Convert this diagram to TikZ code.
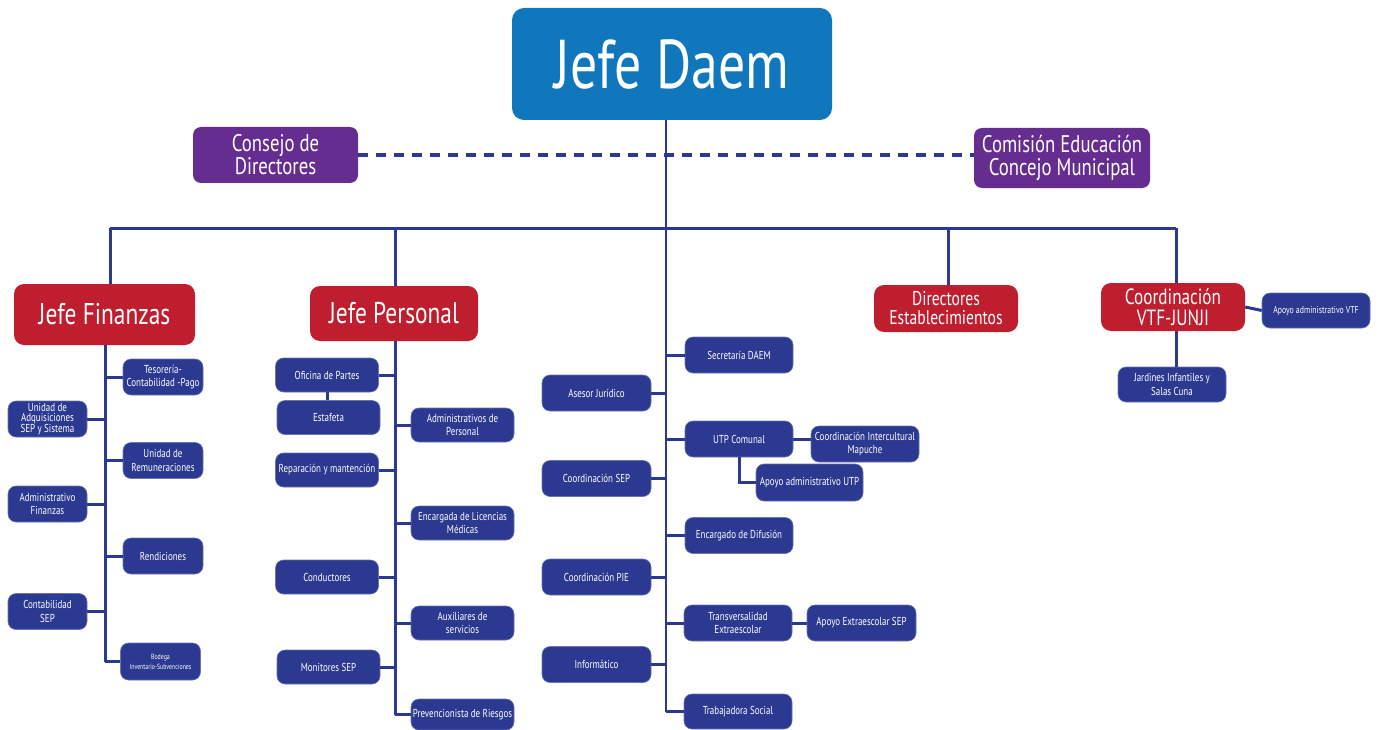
\documentclass[tikz,border=0pt]{standalone}
\usepackage{fontspec}
\setmainfont{PT Sans}[FakeStretch=0.78]
\definecolor{cblue}{HTML}{1177BC}
\definecolor{cpurple}{HTML}{662D91}
\definecolor{cred}{HTML}{BE1E2D}
\definecolor{cnavy}{HTML}{2B3990}
\tikzset{
  basebox/.style={rectangle, rounded corners=8pt, text=white, align=center, inner sep=0pt, font=\fontsize{11.5}{13.5}\selectfont},
  topbox/.style={basebox, fill=cblue, rounded corners=12pt, font=\fontsize{69}{69}\selectfont},
  purplebox/.style={basebox, fill=cpurple, font=\fontsize{24}{23}\selectfont},
  redbox/.style={basebox, fill=cred, rounded corners=10pt},
  sbox/.style={basebox, fill=cnavy, draw=cnavy!70!white, line width=0.6pt},
  link/.style={draw=cnavy, line width=3pt},
  dlink/.style={draw=cnavy, line width=4pt, dash pattern=on 10pt off 8pt}
}
\begin{document}
\begin{tikzpicture}[x=1pt,y=-1pt]
\useasboundingbox (0,0) rectangle (1380,730);
% top
\node[topbox, minimum width=320, minimum height=112] (JD) at (672,64) {Jefe Daem};
\node[purplebox, minimum width=165, minimum height=56] (CD) at (275.5,155) {Consejo de\\Directores};
\node[purplebox, minimum width=176, minimum height=60] (CE) at (1062,158) {Comisión Educación\\Concejo Municipal};
% red level
\node[redbox, font=\fontsize{30}{30}\selectfont, minimum width=181, minimum height=61] (JF) at (104.5,314.5) {Jefe Finanzas};
\node[redbox, font=\fontsize{30}{30}\selectfont, minimum width=168, minimum height=55] (JP) at (394,313.5) {Jefe Personal};
\node[redbox, font=\fontsize{20}{19}\selectfont, minimum width=144, minimum height=47] (DE) at (946,308.5) {Directores\\Establecimientos};
\node[redbox, font=\fontsize{22}{21}\selectfont, minimum width=144, minimum height=48] (CV) at (1173,307) {Coordinación\\VTF-JUNJI};
\node[sbox, font=\fontsize{10}{12}\selectfont, minimum width=108, minimum height=35] (AV) at (1316,310.5) {Apoyo administrativo VTF};
\node[sbox, minimum width=108, minimum height=35] (JI) at (1172,384.5) {Jardines Infantiles y\\Salas Cuna};
% finanzas
\node[sbox, minimum width=80, minimum height=36] (TES) at (163,377) {Tesorería-\\Contabilidad -Pago};
\node[sbox, minimum width=80, minimum height=36] (REM) at (163,460.5) {Unidad de\\Remuneraciones};
\node[sbox, minimum width=80, minimum height=36] (REN) at (163,556) {Rendiciones};
\node[sbox, font=\fontsize{7.5}{10}\selectfont, minimum width=80, minimum height=37] (BOD) at (160.5,661.5) {Bodega\\Inventario-Subvenciones};
\node[sbox, font=\fontsize{11.5}{10}\selectfont, minimum width=79, minimum height=36] (ADQ) at (47.5,419) {Unidad de\\Adquisiciones\\SEP y Sistema};
\node[sbox, minimum width=79, minimum height=36] (ADF) at (47.5,504) {Administrativo\\Finanzas};
\node[sbox, minimum width=79, minimum height=36] (CSP) at (47.5,611.5) {Contabilidad\\SEP};
% personal
\node[sbox, minimum width=103, minimum height=34] (OFI) at (327,375) {Oficina de Partes};
\node[sbox, minimum width=103, minimum height=34] (EST) at (328.5,417.5) {Estafeta};
\node[sbox, minimum width=103, minimum height=34] (REP) at (327,470) {Reparación y mantención};
\node[sbox, minimum width=103, minimum height=34] (CON) at (327,577) {Conductores};
\node[sbox, minimum width=103, minimum height=34] (MON) at (328.5,667) {Monitores SEP};
\node[sbox, minimum width=103, minimum height=34] (ADP) at (462.5,425) {Administrativos de\\Personal};
\node[sbox, minimum width=103, minimum height=34] (LIC) at (462.5,523) {Encargada de Licencias\\Médicas};
\node[sbox, minimum width=103, minimum height=34] (AUX) at (462.5,623) {Auxiliares de\\servicios};
\node[sbox, minimum width=103, minimum height=31] (PRE) at (462.5,714.5) {Prevencionista de Riesgos};
% center
\node[sbox, minimum width=108, minimum height=36] (SEC) at (739,355) {Secretaría DAEM};
\node[sbox, minimum width=108, minimum height=36] (UTP) at (739,439) {UTP Comunal};
\node[sbox, minimum width=108, minimum height=36] (DIF) at (739,535.5) {Encargado de Difusión};
\node[sbox, minimum width=108, minimum height=36] (TRA) at (738,623) {Transversalidad\\Extraescolar};
\node[sbox, minimum width=108, minimum height=35] (TRS) at (738,711.5) {Trabajadora Social};
\node[sbox, minimum width=109, minimum height=36] (ASE) at (596.5,393) {Asesor Jurídico};
\node[sbox, minimum width=109, minimum height=36] (CSE) at (596.5,478.5) {Coordinación SEP};
\node[sbox, minimum width=109, minimum height=36] (PIE) at (596.5,577) {Coordinación PIE};
\node[sbox, minimum width=109, minimum height=36] (INF) at (596.5,664.5) {Informático};
\node[sbox, minimum width=108, minimum height=36] (CIM) at (865,444) {Coordinación Intercultural\\Mapuche};
\node[sbox, minimum width=107, minimum height=37] (AUT) at (809.5,482.5) {Apoyo administrativo UTP};
\node[sbox, minimum width=109, minimum height=36] (AES) at (861.5,623) {Apoyo Extraescolar SEP};
% coordinates
\coordinate (sp) at (666,0);
\coordinate (b1) at (110,228);
\coordinate (b2) at (395,228);
\coordinate (b3) at (948,228);
\coordinate (b4) at (1176,228);
\coordinate (fx) at (105,0);
\coordinate (px) at (395,0);
% dashed
\draw[dlink] (CD.east) -- (CD.east -| CE.west);
% spine and bus
\draw[link, line width=2.5pt] (JD.south -| sp) -- (sp |- TRS.west);
\draw[link] (b1) -- (b4);
\draw[link] (b1) -- (b1 |- JF.north);
\draw[link] (b2) -- (b2 |- JP.north);
\draw[link] (b3) -- (b3 |- DE.north);
\draw[link] (b4) -- (b4 |- CV.north);
% VTF
\draw[link] (CV.east) -- (AV.west);
\draw[link] (CV.south -| b4) -- (JI.north -| b4);
% finanzas
\draw[link] (JF.south -| fx) -- (fx |- BOD.west);
\foreach \n in {TES,REM,REN,BOD} \draw[link] (\n.west) -- (\n.west -| fx);
\foreach \n in {ADQ,ADF,CSP} \draw[link] (\n.east) -- (\n.east -| fx);
% personal
\draw[link] (JP.south -| px) -- (px |- PRE.west);
\foreach \n in {ADP,LIC,AUX,PRE} \draw[link] (\n.west) -- (\n.west -| px);
\foreach \n in {OFI,REP,CON,MON} \draw[link] (\n.east) -- (\n.east -| px);
\draw[link] (OFI.south) -- (OFI.south |- EST.north);
% center
\foreach \n in {SEC,UTP,DIF,TRA,TRS} \draw[link] (\n.west) -- (\n.west -| sp);
\foreach \n in {ASE,CSE,PIE,INF} \draw[link] (\n.east) -- (\n.east -| sp);
\draw[link] (UTP.east) -- (UTP.east -| CIM.west);
\draw[link] (TRA.east) -- (AES.west);
\draw[link] (UTP.south) -- (UTP.south |- AUT.west) -- (AUT.west);
\end{tikzpicture}
\end{document}
